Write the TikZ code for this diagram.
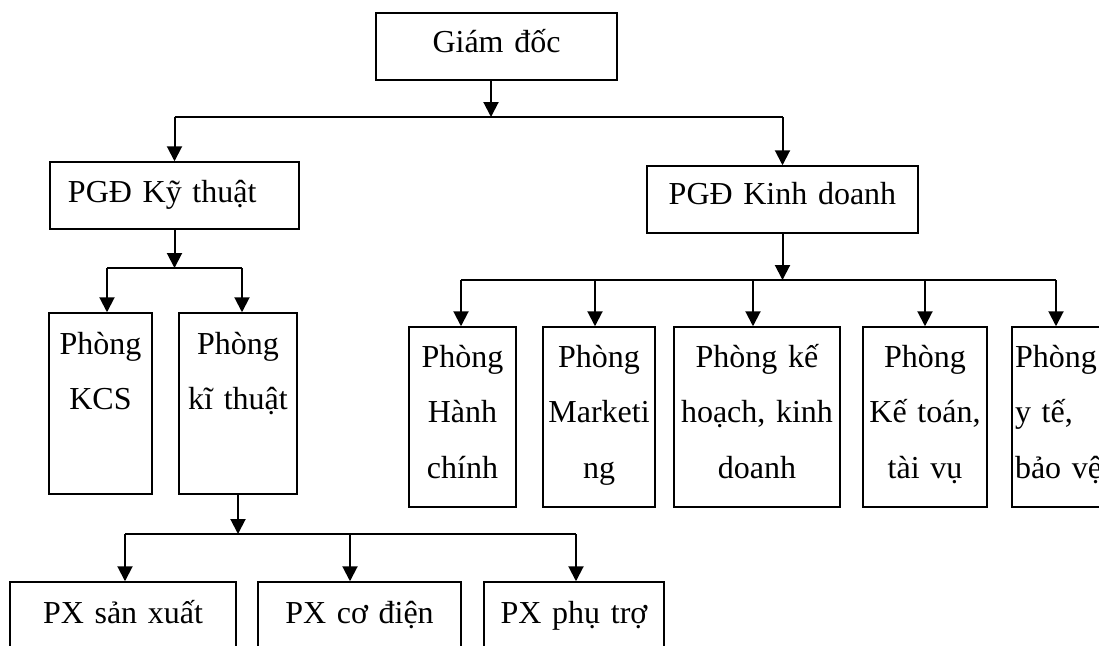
\documentclass[tikz,border=0pt]{standalone}
\usepackage{fontspec}
\setmainfont{Liberation Serif}
\usetikzlibrary{arrows.meta}

\tikzset{
    every node/.style={font=\fontsize{16}{27.75}\selectfont},
    box/.style={draw, line width=0.75pt, inner sep=0pt},
    onebox/.style={box, align=center},
    tallbox/.style={box, align=center, text height=20.5pt, text depth=70pt},
    lowbox/.style={box, align=center, text height=20pt, text depth=70pt},
    arr/.style={line width=1pt, -{Triangle[width=7.5pt,length=7.5pt]}},
    bus/.style={line width=1pt}
}

\begin{document}
\begin{tikzpicture}[x=0.5pt, y=-0.5pt]
    \clip (0,0) rectangle (1099,645);
    % Draw the director and the two deputies
    \node (giamdoc) [onebox, text width=120.5pt, text height=19.5pt, text depth=14pt] at (496.5,46.5) {Giám đốc};
    \node (pgdkt) [onebox, align=left, inner xsep=9pt, text width=106.5pt, text height=20pt, text depth=13.5pt] at (174.5,195.5) {PGĐ Kỹ thuật};
    \node (pgdkd) [onebox, text width=135.5pt, text height=19pt, text depth=14.5pt] at (782.5,199.5) {PGĐ Kinh doanh};
    % Technical side
    \node (kcs) [tallbox, text width=51.5pt] at (100.5,403.5) {Phòng\\KCS};
    \node (kythuat) [tallbox, text width=59pt] at (238,403.5) {Phòng\\kĩ thuật};
    \node (pxsx) [onebox, text width=113pt, text height=20.5pt, text depth=19.5pt] at (123,622) {PX sản xuất};
    \node (pxcd) [onebox, text width=101.5pt, text height=20.5pt, text depth=19.5pt] at (359.5,622) {PX cơ điện};
    \node (pxpt) [onebox, text width=90pt, text height=20.5pt, text depth=19.5pt] at (574,622) {PX phụ trợ};
    % Business side
    \node (hanhchinh) [lowbox, text width=53.5pt] at (462.5,417) {Phòng\\Hành\\chính};
    \node (marketing) [lowbox, text width=56pt] at (599,417) {Phòng\\Marketi\\ng};
    \node (kehoach) [lowbox, text width=83pt] at (757,417) {Phòng kế\\hoạch, kinh\\doanh};
    \node (ketoan) [lowbox, text width=62pt] at (925,417) {Phòng\\Kế toán,\\tài vụ};
    \node (yte) [lowbox, align=left, inner xsep=1.5pt, text width=56pt] at (1071,417) {Phòng\\y tế,\\bảo vệ};

    % Top level connectors
    \coordinate (top) at (491,117);
    \draw [arr] (giamdoc.south -| top) -- (top);
    \draw [bus] (pgdkt |- top) -- (pgdkd |- top);
    \draw [arr] (pgdkt |- top) -- (pgdkt);
    \draw [arr] (pgdkd |- top) -- (pgdkd);

    % Technical connectors
    \coordinate (kt1) at (107,268);
    \coordinate (kt2) at (242,268);
    \draw [arr] (pgdkt) -- (pgdkt |- kt1);
    \draw [bus] (kt1) -- (kt2);
    \draw [arr] (kt1) -- (kt1 |- kcs.north);
    \draw [arr] (kt2) -- (kt2 |- kythuat.north);

    \coordinate (px1) at (125,534);
    \coordinate (px2) at (350,534);
    \coordinate (px3) at (576,534);
    \draw [arr] (kythuat.south) -- (kythuat.south |- px1);
    \draw [bus] (px1) -- (px3);
    \foreach \p/\n in {px1/pxsx, px2/pxcd, px3/pxpt}
        \draw [arr] (\p) -- (\p |- \n.north);

    % Business connectors
    \coordinate (kd1) at (461,280);
    \coordinate (kd2) at (595,280);
    \coordinate (kd3) at (753,280);
    \coordinate (kd4) at (925,280);
    \coordinate (kd5) at (1056,280);
    \draw [arr] (pgdkd) -- (pgdkd |- kd1);
    \draw [bus] (kd1) -- (kd5);
    \foreach \p/\n in {kd1/hanhchinh, kd2/marketing, kd3/kehoach, kd4/ketoan, kd5/yte}
        \draw [arr] (\p) -- (\p |- \n.north);
\end{tikzpicture}
\end{document}
